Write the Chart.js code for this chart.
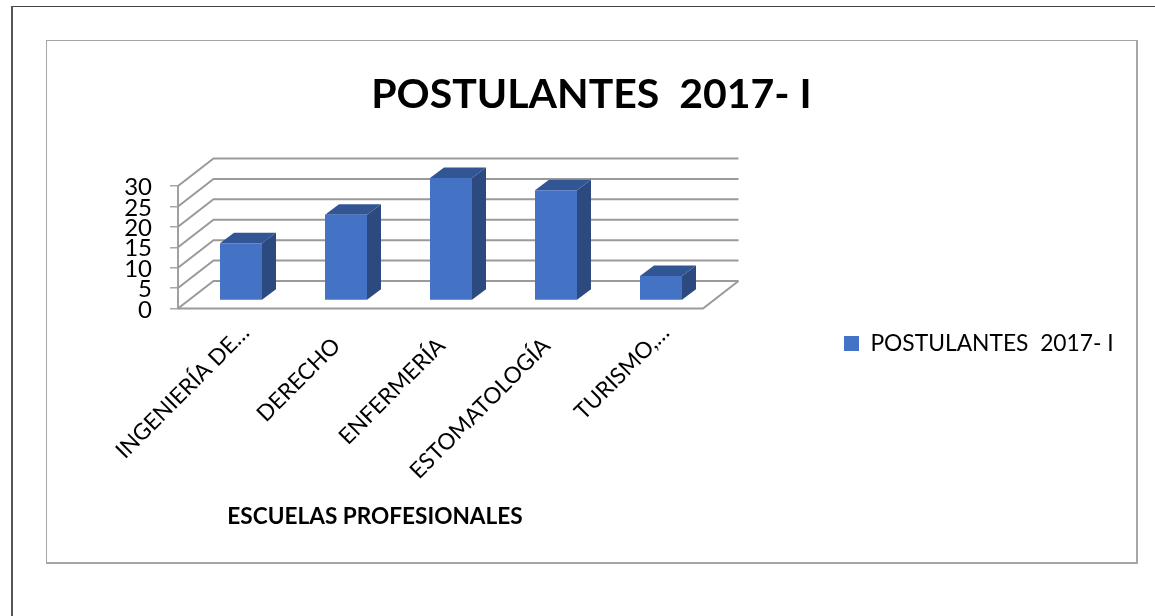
<!DOCTYPE html>
<html><head><meta charset="utf-8">
<style>
html,body{margin:0;padding:0;background:#fff;width:1155px;height:616px;overflow:hidden}
#outerTop{position:absolute;left:11px;top:6px;right:0;height:1px;background:#444}
#outerLeft{position:absolute;left:11px;top:6px;width:2px;bottom:0;background:#555}
#inner{position:absolute;left:46px;top:40px;width:1089px;height:521px;border:1px solid #a6a6a6;border-right-width:2px;border-bottom-width:2px}
canvas{position:absolute;left:0;top:0}
</style>
<script src="https://cdn.jsdelivr.net/npm/chart.js@4"></script>
</head><body>
<canvas id="c" width="1155" height="616"></canvas>
<div id="outerTop"></div><div id="outerLeft"></div><div id="inner"></div>
<script>
const categories=["INGENIERÍA DE…","DERECHO","ENFERMERÍA","ESTOMATOLOGÍA","TURISMO,…"];
const seriesName="POSTULANTES  2017- I";
const values=[14,21,30,27,6];
const axisTitle="ESCUELAS PROFESIONALES";
const FONT="Lato, Carlito, sans-serif";
const wall={dx:35.5,dy:-27.5}, barShift={dx:10.5,dy:-8}, depth={dx:14,dy:-10.5};
const GRID="#9a9a9a";

const threeD={
  id:"threeD",
  afterLayout(chart){
    const l=chart.legend;
    const w=l.width,h=l.height;
    l.left=836;l.right=836+w;l.top=343.5-h/2;l.bottom=343.5+h/2;
    if(l.adjustHitBoxes)l.adjustHitBoxes();
    const t=chart.titleBlock;
    t.left=46.5;t.right=1136.5;t.width=1090;
  },
  beforeDraw(chart){
    chart.scales.x.getLabelItems(chart.chartArea).forEach(it=>{
      if(String(it.label).endsWith("…")){
        it.options.translation[0]+=14;
        it.options.translation[1]-=13;
      }
    });
  },
  beforeDatasetsDraw(chart){
    const {ctx,scales:{x,y},chartArea:a}=chart;
    ctx.save();
    ctx.strokeStyle=GRID;ctx.lineWidth=2;
    y.ticks.forEach(t=>{
      const py=y.getPixelForValue(t.value);
      ctx.beginPath();ctx.moveTo(a.left,py);ctx.lineTo(a.left+wall.dx,py+wall.dy);
      ctx.lineTo(a.right+wall.dx,py+wall.dy);ctx.stroke();
    });
    const p0=y.getPixelForValue(0);
    ctx.beginPath();ctx.moveTo(a.left,p0);ctx.lineTo(a.right,p0);ctx.lineTo(a.right+wall.dx,p0+wall.dy);ctx.stroke();
    ctx.restore();
    ctx.save();
    ctx.translate(barShift.dx,barShift.dy);
    chart.getDatasetMeta(0).data.forEach(b=>{
      const {x:bx,y:by,base,width}=b.getProps(["x","y","base","width"],true);
      const L=bx-width/2,R=bx+width/2;
      ctx.fillStyle="#2c4a80";
      ctx.beginPath();ctx.moveTo(R,by);ctx.lineTo(R+depth.dx,by+depth.dy);ctx.lineTo(R+depth.dx,base+depth.dy);ctx.lineTo(R,base);ctx.closePath();ctx.fill();
      ctx.fillStyle="#325693";
      ctx.beginPath();ctx.moveTo(L,by);ctx.lineTo(L+depth.dx,by+depth.dy);ctx.lineTo(R+depth.dx,by+depth.dy);ctx.lineTo(R,by);ctx.closePath();ctx.fill();
    });
  },
  afterDatasetsDraw(chart){
    chart.ctx.restore();
    const ctx=chart.ctx;
    ctx.save();
    ctx.fillStyle="#000";ctx.font="bold 22.6px "+FONT;ctx.textAlign="center";ctx.textBaseline="middle";
    ctx.fillText(axisTitle,375,517);
    ctx.restore();
  }
};

new Chart(document.getElementById("c"),{
  type:"bar",
  data:{labels:categories,datasets:[{label:seriesName,data:values,backgroundColor:"#4472c4",
    categoryPercentage:1,barPercentage:0.4,clip:false}]},
  options:{
    responsive:false,animation:false,
    layout:{padding:{left:0,right:452,top:0,bottom:0}},
    plugins:{
      tooltip:{enabled:false},
      title:{display:true,text:seriesName,color:"#000",
        font:{family:FONT,size:41,weight:"bold",lineHeight:1.2},
        padding:{top:70,bottom:66.8},fullSize:false,align:"center"},
      legend:{position:"chartArea",align:"center",
        labels:{color:"#000",boxWidth:15,boxHeight:15,padding:8,font:{family:FONT,size:22.8}}}
    },
    scales:{
      x:{
        grid:{display:false},border:{display:false},
        ticks:{color:"#000",autoSkip:false,minRotation:45,maxRotation:45,padding:16,labelOffset:1,font:{family:FONT,size:22.5}},
        afterFit(s){s.height=307.5;}
      },
      y:{
        min:0,max:30,
        grid:{drawOnChartArea:false,drawTicks:true,tickLength:8,color:"#a6a6a6",lineWidth:1.5},
        border:{display:true,color:"#a0a0a0",width:2},
        ticks:{color:"#000",stepSize:5,autoSkip:false,padding:18,labelOffset:1.5,font:{family:FONT,size:24,lineHeight:1}},
        afterFit(s){s.width=178;}
      }
    }
  },
  plugins:[threeD]
});
</script>
</body></html>
